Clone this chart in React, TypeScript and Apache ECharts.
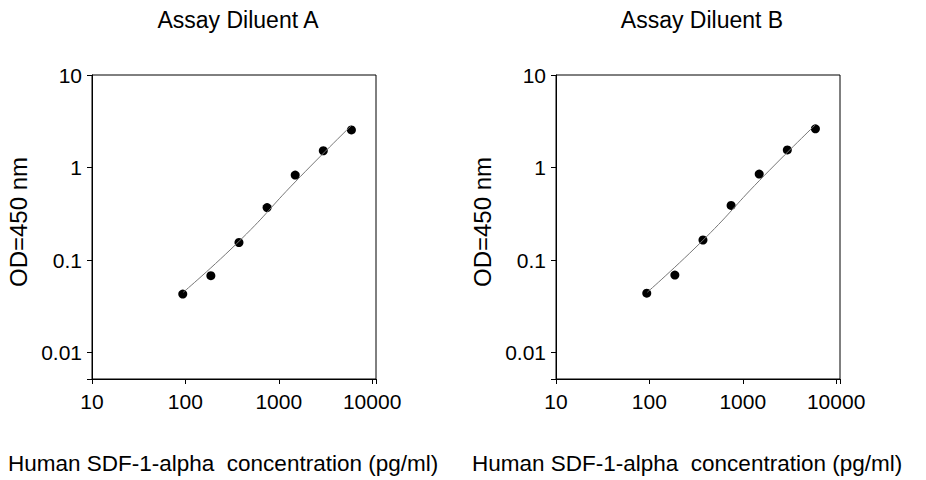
import * as echarts from "echarts";
import { useEffect, useRef } from "react";

const concentrations = [93.75, 187.5, 375, 750, 1500, 3000, 6000];
const odA = [0.043, 0.068, 0.155, 0.37, 0.83, 1.52, 2.55];
const odB = [0.044, 0.069, 0.165, 0.39, 0.85, 1.55, 2.62];
const fitX = [95, 400, 1500, 6000];
const fitA = [0.045, 0.17, 0.7, 2.85];
const fitB = [0.045, 0.175, 0.72, 2.9];
const titles = ["Assay Diluent A", "Assay Diluent B"];
const xTitle = "Human SDF-1-alpha  concentration (pg/ml)";
const yTitle = "OD=450 nm";

const font = "Liberation Sans, Arial, sans-serif";
const isPow10 = (v: number) => Math.abs(Math.log10(v) - Math.round(Math.log10(v))) < 1e-6;

export default function App() {
  const ref = useRef<HTMLDivElement | null>(null);

  useEffect(() => {
    document.body.style.margin = "0";
    if (!ref.current) return;
    const chart = echarts.init(ref.current, null, { renderer: "svg" });
    const lefts = [92, 556];
    const label = {
      color: "#000",
      fontFamily: font,
      fontSize: 21,
      formatter: (v: number) => (isPow10(v) ? String(v) : ""),
    };
    chart.setOption({
      animation: false,
      backgroundColor: "#fff",
      title: titles.map((t, i) => ({
        text: t,
        left: lefts[i] + 141,
        textAlign: "center",
        top: 3,
        textStyle: { fontFamily: font, fontSize: 23, fontWeight: "normal", color: "#000" },
      })),
      graphic: [
        ...lefts.map((l) => ({
          type: "text",
          x: l - 74,
          y: 222,
          rotation: Math.PI / 2,
          style: { text: yTitle, fontFamily: font, fontSize: 24, fill: "#000", align: "center", verticalAlign: "middle" },
        })),
        ...[8, 472].map((x) => ({
          type: "text",
          x,
          y: 463,
          style: { text: xTitle, fontFamily: font, fontSize: 22.5, fill: "#000", verticalAlign: "middle" },
        })),
      ],
      grid: lefts.map((l) => ({
        left: l,
        top: 75,
        width: 284,
        height: 304,
        show: true,
        borderColor: "#000",
        borderWidth: 1,
      })),
      xAxis: lefts.map((_, i) => ({
        type: "log",
        gridIndex: i,
        min: 10,
        max: 11000,
        logBase: 10,
        axisLine: { lineStyle: { color: "#000" } },
        axisTick: { length: 5, lineStyle: { color: "#000" } },
        axisLabel: { ...label, margin: 12 },
        splitLine: { show: false },
      })),
      yAxis: lefts.map((_, i) => ({
        type: "log",
        gridIndex: i,
        min: 0.0052,
        max: 10,
        logBase: 10,
        axisLine: { lineStyle: { color: "#000" } },
        axisTick: { length: 5, lineStyle: { color: "#000" } },
        axisLabel: { ...label, margin: 10 },
        splitLine: { show: false },
      })),
      series: [
        [odA, fitA],
        [odB, fitB],
      ].flatMap(([pts, fit], i) => [
        {
          type: "line",
          xAxisIndex: i,
          yAxisIndex: i,
          data: fitX.map((x, k) => [x, fit[k]]),
          smooth: true,
          showSymbol: false,
          lineStyle: { color: "#777", width: 1 },
        },
        {
          type: "scatter",
          xAxisIndex: i,
          yAxisIndex: i,
          data: concentrations.map((x, k) => [x, pts[k]]),
          symbolSize: 9,
          itemStyle: { color: "#000", opacity: 1 },
        },
      ]),
    });
    return () => chart.dispose();
  }, []);

  return <div ref={ref} style={{ width: 926, height: 480 }} />;
}
